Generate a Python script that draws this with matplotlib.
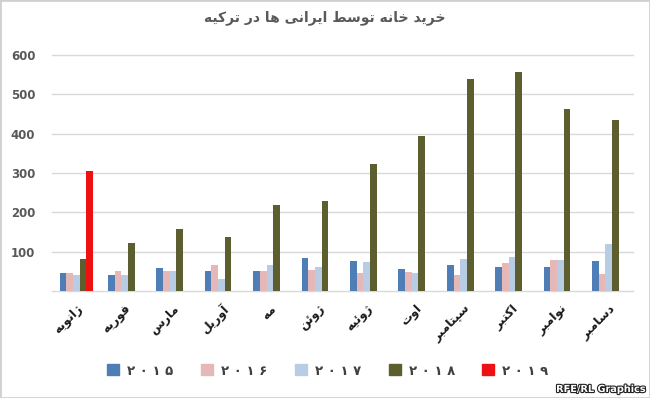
import matplotlib
matplotlib.use("Agg")
import matplotlib.pyplot as plt
import matplotlib.patches as mpatches
import matplotlib.patheffects as pe
import numpy as np

plt.rcParams['font.family'] = ['DejaVu Sans']

# ---------------- data ----------------
months = ["ژانویه", "فوریه", "مارس", "آوریل", "مه", "ژوئن",
          "ژوئیه", "اوت", "سپتامبر", "اکتبر", "نوامبر", "دسامبر"]
years = ["۲۰۱۵", "۲۰۱۶", "۲۰۱۷", "۲۰۱۸", "۲۰۱۹"]
v2015 = [45, 41, 58, 52, 52, 85, 77, 57, 66, 60, 62, 76]
v2016 = [45, 52, 51, 66, 52, 53, 47, 49, 40, 72, 79, 43]
v2017 = [40, 41, 51, 31, 66, 60, 74, 46, 82, 86, 79, 119]
v2018 = [82, 121, 157, 138, 218, 229, 322, 395, 540, 557, 463, 435]
v2019 = [306, 0, 0, 0, 0, 0, 0, 0, 0, 0, 0, 0]
title = "خرید خانه توسط ایرانی ها در ترکیه"
yticks = [100, 200, 300, 400, 500, 600]
colors = ["#4F7DB5", "#E5B8B7", "#B8CCE4", "#5C5E2F", "#EE1111"]

# ------------- minimal Arabic/Persian shaping -------------
# letter: (isolated, final, initial, medial) ; None initial => right-joining only
FORMS = {
    'ا': (0xFE8D, 0xFE8E, None, None),
    'آ': (0xFE81, 0xFE82, None, None),
    'ب': (0xFE8F, 0xFE90, 0xFE91, 0xFE92),
    'پ': (0xFB56, 0xFB57, 0xFB58, 0xFB59),
    'ت': (0xFE95, 0xFE96, 0xFE97, 0xFE98),
    'خ': (0xFEA5, 0xFEA6, 0xFEA7, 0xFEA8),
    'د': (0xFEA9, 0xFEAA, None, None),
    'ر': (0xFEAD, 0xFEAE, None, None),
    'ز': (0xFEAF, 0xFEB0, None, None),
    'ژ': (0xFB8A, 0xFB8B, None, None),
    'س': (0xFEB1, 0xFEB2, 0xFEB3, 0xFEB4),
    'ط': (0xFEC1, 0xFEC2, 0xFEC3, 0xFEC4),
    'ف': (0xFED1, 0xFED2, 0xFED3, 0xFED4),
    'ک': (0xFB8E, 0xFB8F, 0xFB90, 0xFB91),
    'ل': (0xFEDD, 0xFEDE, 0xFEDF, 0xFEE0),
    'م': (0xFEE1, 0xFEE2, 0xFEE3, 0xFEE4),
    'ن': (0xFEE5, 0xFEE6, 0xFEE7, 0xFEE8),
    'ه': (0xFEE9, 0xFEEA, 0xFEEB, 0xFEEC),
    'و': (0xFEED, 0xFEEE, None, None),
    'ئ': (0xFE89, 0xFE8A, 0xFE8B, 0xFE8C),
    'ی': (0xFBFC, 0xFBFD, 0xFBFE, 0xFBFF),
}


def shape(s):
    out = []
    n = len(s)
    for i, ch in enumerate(s):
        if ch not in FORMS:
            out.append(ch)
            continue
        f = FORMS[ch]
        prev = s[i - 1] if i > 0 else None
        nxt = s[i + 1] if i < n - 1 else None
        jp = prev in FORMS and FORMS[prev][2] is not None
        jn = f[2] is not None and nxt in FORMS
        if jp and jn:
            cp = f[3]
        elif jp:
            cp = f[1]
        elif jn:
            cp = f[2]
        else:
            cp = f[0]
        out.append(chr(cp))
    return ''.join(reversed(out))


def spaced(d):
    return ' '.join(d)


# ---------------- figure ----------------
fig = plt.figure(figsize=(6.5, 3.98), dpi=100)
ax = fig.add_axes([52 / 650, 1 - 291 / 398, 581 / 650, 236 / 398])

x = np.arange(len(months))
w = 0.138
series = [v2015, v2016, v2017, v2018, v2019]
for k, vals in enumerate(series):
    ax.bar(x + (k - 2) * w, vals, width=w, color=colors[k], zorder=3,
           linewidth=0)

ax.set_ylim(0, 600)
ax.set_xlim(-0.5, len(months) - 0.5)
ax.set_yticks(yticks)
ax.set_yticklabels([str(t) for t in yticks], fontsize=8.5, fontweight='bold',
                   color='#595959')
for t in [0] + yticks:
    ax.axhline(t, color='#D9D9D9', lw=1, zorder=1, clip_on=False)
for s in ax.spines.values():
    s.set_visible(False)
ax.tick_params(length=0, pad=8)
ax.tick_params(axis='y', pad=12)
ax.set_xticks(x)
ax.set_xticklabels([shape(m) for m in months], rotation=45, ha='right',
                   rotation_mode='anchor', fontsize=8.8, fontweight='bold',
                   color='#1a1a1a')

fig.text(0.5, 1 - 18 / 398, shape(title), ha='center', va='center',
         fontsize=10, fontweight='bold', color='#595959')

handles = [mpatches.Patch(color=c) for c in colors]
leg = fig.legend(handles, [spaced(y) for y in years], ncol=5,
                 loc='center', bbox_to_anchor=(328 / 650, 1 - 371 / 398),
                 frameon=False, handlelength=0.9, handleheight=0.9,
                 columnspacing=2.1, handletextpad=0.6,
                 prop={'size': 9.5, 'weight': 'bold'})
for t in leg.get_texts():
    t.set_color('#404040')

fig.text(646 / 650, 1 - 389 / 398, "RFE/RL Graphics", ha='right', va='center',
         fontsize=7, fontweight='bold', color='white',
         path_effects=[pe.withStroke(linewidth=1.6, foreground='#222222')])

fig.patches.append(mpatches.Rectangle((0, 0), 1, 1, transform=fig.transFigure,
                                      fill=False, edgecolor='#D0D0D0', lw=2))

fig.savefig("out.png", dpi=100)
